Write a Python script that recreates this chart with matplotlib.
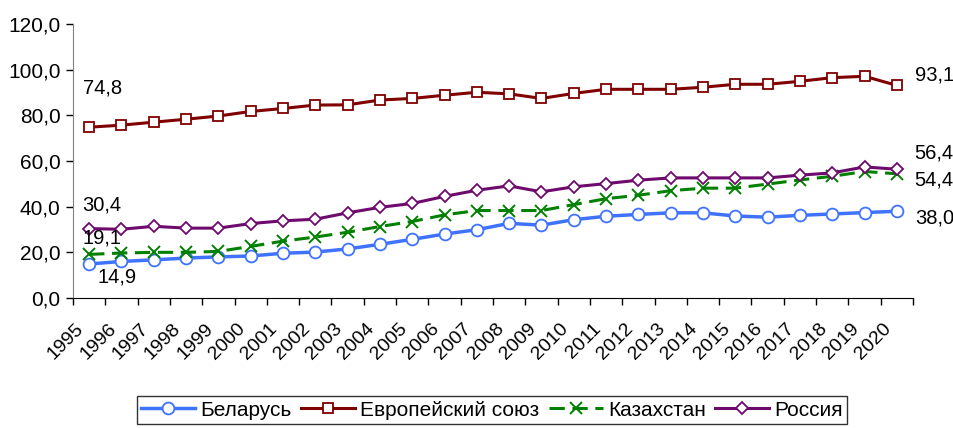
import matplotlib
matplotlib.use("Agg")
import matplotlib.pyplot as plt
import matplotlib.transforms as mtransforms
import numpy as np

plt.rcParams['font.family'] = ['Liberation Sans', 'DejaVu Sans']

years = list(range(1995, 2021))

belarus = [14.9, 16.0, 16.7, 17.5, 18.0, 18.4, 19.6, 20.1, 21.5, 23.5, 25.7, 28.0, 29.9,
           32.7, 31.9, 34.3, 35.8, 36.6, 37.3, 37.3, 35.9, 35.4, 36.2, 36.8, 37.4, 38.0]
eu = [74.8, 75.7, 77.0, 78.3, 79.7, 81.7, 83.0, 84.5, 84.6, 86.7, 87.4, 88.8, 90.1,
      89.4, 87.4, 89.6, 91.4, 91.4, 91.4, 92.3, 93.6, 93.6, 94.9, 96.5, 97.1, 93.1]
kazakhstan = [19.1, 19.7, 20.0, 20.0, 20.4, 22.6, 24.9, 26.7, 28.8, 31.3, 33.5, 36.4, 38.3,
              38.3, 38.3, 40.9, 43.5, 45.0, 47.0, 48.1, 48.1, 49.9, 51.7, 53.3, 55.4, 54.4]
russia = [30.4, 30.1, 31.4, 30.6, 30.6, 32.6, 33.8, 34.5, 37.3, 39.7, 41.4, 44.5, 47.2,
          49.1, 46.5, 48.7, 50.1, 51.6, 52.6, 52.6, 52.6, 52.6, 53.8, 54.8, 57.4, 56.4]

names = ['Беларусь', 'Европейский союз', 'Казахстан', 'Россия']
series = [belarus, eu, kazakhstan, russia]
colors = ['#3f73ff', '#800000', '#008000', '#6e0a6e']

# label offsets (pixels) for first and last points
first_off = [(28, -13), (13, 39), (13, 16), (13, 24)]
last_off = [(38, -7), (38, 10), (37, -6), (37, 16)]

fig = plt.figure(figsize=(9.54, 4.28), dpi=100)
ax = fig.add_axes([73 / 954, 1 - 298 / 428, (913 - 73) / 954, (298 - 24) / 428])

x = np.arange(len(years))
styles = [
    dict(marker='o', ms=8.5, lw=2.5, ls='-'),
    dict(marker='s', ms=6.5, lw=2.2, ls='-'),
    dict(marker='x', ms=8, lw=2.2, ls=(0, (5, 2.5)), mew=1.4),
    dict(marker='D', ms=6.5, lw=2.2, ls='-'),
]
for vals, name, col, st, fo, lo in zip(series, names, colors, styles, first_off, last_off):
    mew = st.pop('mew', 1.3)
    ax.plot(x, vals, color=col, mfc='white', mec=col, mew=mew, label=name,
            dash_capstyle='butt', **st)
    ax.annotate(f"{vals[0]:.1f}".replace('.', ','), (x[0], vals[0]), xytext=fo,
                textcoords='offset pixels', ha='center', va='center', fontsize=14.5)
    ax.annotate(f"{vals[-1]:.1f}".replace('.', ','), (x[-1], vals[-1]), xytext=lo,
                textcoords='offset pixels', ha='center', va='center', fontsize=14.5,
                annotation_clip=False)

ax.set_xlim(-0.5, len(years) - 0.5)
ax.set_ylim(0, 120)
ax.set_yticks(np.arange(0, 121, 20))
ax.set_yticklabels([f"{v:.1f}".replace('.', ',') for v in np.arange(0, 121, 20)], fontsize=15)
ax.tick_params(axis='y', direction='out', length=5, width=1, pad=4)

ax.set_xticks(x)
ax.set_xticklabels([str(y) for y in years], rotation=45, ha='right', va='top',
                   rotation_mode='anchor', fontsize=14)
ax.tick_params(axis='x', which='major', length=0, pad=16)
ax.set_xticks(np.arange(-0.5, len(years)), minor=True)
ax.tick_params(axis='x', which='minor', direction='out', length=5, width=1)

offset = mtransforms.ScaledTranslation(-14 / 100, 0, fig.dpi_scale_trans)
for lab in ax.get_xticklabels():
    lab.set_transform(lab.get_transform() + offset)

for s in ['top', 'right']:
    ax.spines[s].set_visible(False)
ax.spines['left'].set_color('#808080')
ax.spines['bottom'].set_color('black')

leg = fig.legend(loc='center', bbox_to_anchor=(492 / 954, 1 - 410 / 428), ncol=4,
                 fontsize=15, frameon=True, fancybox=False, edgecolor='black',
                 handlelength=2.6, handletextpad=0.25, columnspacing=0.45,
                 borderpad=0.2, borderaxespad=0)
leg.get_frame().set_linewidth(1)

fig.savefig('out.png', dpi=100)
